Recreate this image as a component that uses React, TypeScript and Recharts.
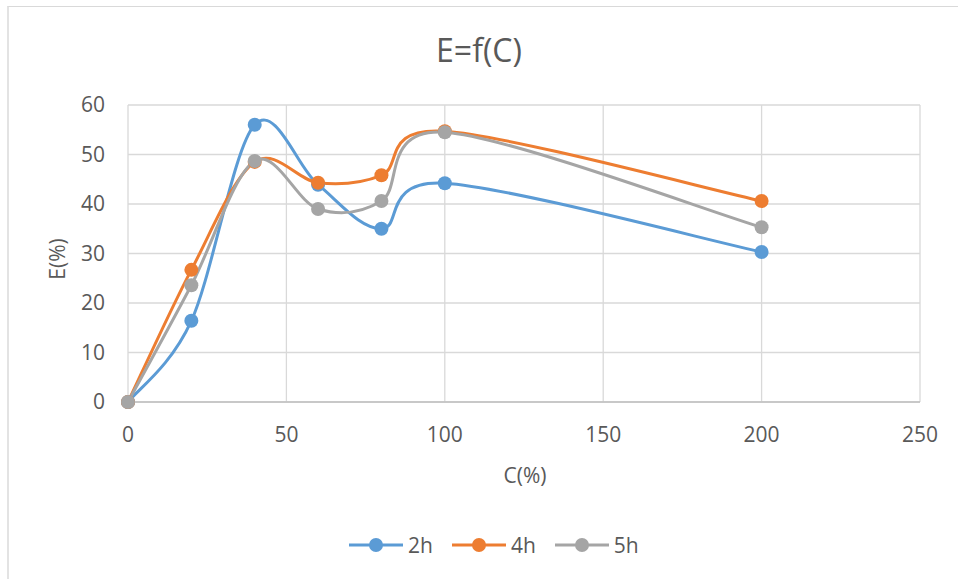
import { LineChart, Line, XAxis, YAxis, CartesianGrid, Legend } from "recharts";

const X_VALUES = [0, 20, 40, 60, 80, 100, 200];
const E_2H = [0, 16.4, 56.0, 43.9, 35.0, 44.2, 30.3];
const E_4H = [0, 26.7, 48.5, 44.3, 45.8, 54.7, 40.6];
const E_5H = [0, 23.6, 48.7, 39.0, 40.6, 54.5, 35.3];
const X_TICKS = [0, 50, 100, 150, 200, 250];
const Y_TICKS = [0, 10, 20, 30, 40, 50, 60];

const SERIES = [
  { name: "2h", values: E_2H, color: "#5b9bd5" },
  { name: "4h", values: E_4H, color: "#ed7d31" },
  { name: "5h", values: E_5H, color: "#a5a5a5" },
];

const FONT = "'Open Sans', 'Noto Sans', sans-serif";
const TEXT = "#595959";

// Excel-style smoothed line: Catmull-Rom through every point
const excelSmooth: any = (context: any) => {
  let pts: [number, number][] = [];
  return {
    areaStart() {},
    areaEnd() {},
    lineStart() {
      pts = [];
    },
    lineEnd() {
      const n = pts.length;
      if (!n) return;
      context.moveTo(pts[0][0], pts[0][1]);
      for (let i = 0; i < n - 1; i++) {
        const p0 = pts[i === 0 ? 0 : i - 1];
        const p1 = pts[i];
        const p2 = pts[i + 1];
        const p3 = pts[i + 2 < n ? i + 2 : n - 1];
        context.bezierCurveTo(
          p1[0] + (p2[0] - p0[0]) / 6, p1[1] + (p2[1] - p0[1]) / 6,
          p2[0] - (p3[0] - p1[0]) / 6, p2[1] - (p3[1] - p1[1]) / 6,
          p2[0], p2[1],
        );
      }
    },
    point(x: number, y: number) {
      pts.push([+x, +y]);
    },
  };
};

function LegendContent() {
  return (
    <div style={{ display: "flex", paddingLeft: 349, alignItems: "center", fontFamily: FONT, fontSize: 21, color: TEXT }}>
      {SERIES.map((s) => (
        <div key={s.name} style={{ display: "flex", alignItems: "center", marginRight: 19 }}>
          <svg width={54} height={20}>
            <line x1={0} y1={10} x2={54} y2={10} stroke={s.color} strokeWidth={3} />
            <circle cx={27} cy={10} r={7} fill={s.color} />
          </svg>
          <span style={{ marginLeft: 5, lineHeight: "24px" }}>{s.name}</span>
        </div>
      ))}
    </div>
  );
}

export default function App() {
  const seriesData = SERIES.map((s) => X_VALUES.map((x, i) => ({ x, y: s.values[i] })));
  return (
    <div style={{ position: "absolute", left: 0, top: 0, width: 958, height: 579, background: "#fff", overflow: "hidden" }}>
      <div style={{ position: "absolute", left: 7, top: 6, right: 0, bottom: 0, borderTop: "1px solid #d9d9d9", borderLeft: "2px solid #e3e3e3" }} />
      <div style={{ position: "absolute", left: 0, width: 958, top: 30, textAlign: "center", fontFamily: FONT, fontSize: 32, lineHeight: "40px", color: TEXT }}>
        E=f(C)
      </div>
      <div style={{ position: "absolute", left: 425, width: 200, top: 460, textAlign: "center", fontFamily: FONT, fontSize: 21, lineHeight: "30px", color: TEXT }}>
        C(%)
      </div>
      <div style={{ position: "absolute", left: 57 - 100, width: 200, top: 259 - 15, textAlign: "center", fontFamily: FONT, fontSize: 21, lineHeight: "30px", color: TEXT, transform: "rotate(-90deg)" }}>
        E(%)
      </div>
      <div style={{ position: "absolute", left: 0, top: 0 }}>
        <LineChart width={958} height={579} margin={{ top: 105, right: 38, bottom: 147, left: 0 }}>
          <CartesianGrid stroke="#d9d9d9" strokeWidth={1.3} />
          <XAxis
            type="number"
            dataKey="x"
            domain={[0, 250]}
            ticks={X_TICKS}
            height={30}
            tickSize={0}
            tickMargin={25}
            axisLine={{ stroke: "#bfbfbf", strokeWidth: 1.5 }}
            tick={{ fill: TEXT, fontSize: 21, fontFamily: FONT }}
          />
          <YAxis
            type="number"
            domain={[0, 60]}
            ticks={Y_TICKS}
            width={128}
            tickSize={0}
            tickMargin={23}
            axisLine={false}
            tick={{ fill: TEXT, fontSize: 21, fontFamily: FONT }}
          />
          <Legend
            layout="horizontal"
            verticalAlign="middle"
            align="center"
            wrapperStyle={{ top: 533, left: 0, width: 958 }}
            content={() => <LegendContent />}
          />
          {SERIES.map((s, i) => (
            <Line
              key={s.name}
              data={seriesData[i]}
              dataKey="y"
              name={s.name}
              type={excelSmooth}
              stroke={s.color}
              strokeWidth={3}
              dot={{ r: 7, fill: s.color, stroke: s.color, strokeWidth: 0 }}
              activeDot={false}
              isAnimationActive={false}
            />
          ))}
        </LineChart>
      </div>
    </div>
  );
}
